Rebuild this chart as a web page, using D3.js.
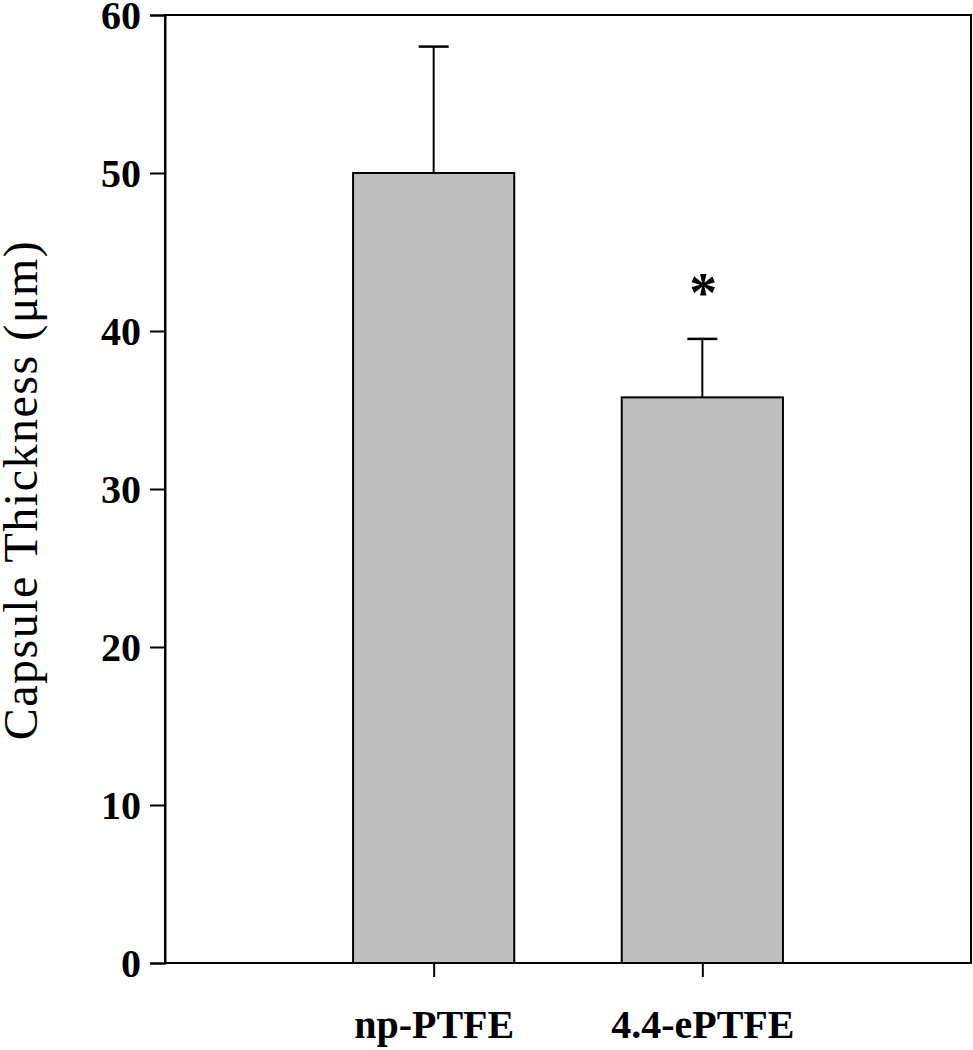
<!DOCTYPE html>
<html>
<head>
<meta charset="utf-8">
<script src="https://cdn.jsdelivr.net/npm/d3@7"></script>
<style>
  body { margin: 0; background: #fff; }
  svg { display: block; }
</style>
</head>
<body>
<svg id="chart" width="973" height="1050"></svg>
<script>
const categories = ["np-PTFE", "4.4-ePTFE"];
const means = [50, 35.8];
const errors = [8, 3.7];
const significance = ["", "*"];
const yTicks = [0, 10, 20, 30, 40, 50, 60];

const margin = { left: 165, right: 2, top: 15, bottom: 87 };
const W = 973, H = 1050;
const svg = d3.select("#chart");

const x = d3.scalePoint().domain(categories).range([margin.left, W - margin.right]).padding(1);
const y = d3.scaleLinear().domain([0, 60]).range([H - margin.bottom, margin.top]);
const barW = x.step() * 0.6;
const font = "'Liberation Serif', 'Times New Roman', serif";

// frame
svg.append("rect")
  .attr("x", margin.left).attr("y", margin.top)
  .attr("width", W - margin.right - margin.left)
  .attr("height", H - margin.bottom - margin.top)
  .attr("fill", "none").attr("stroke", "#000").attr("stroke-width", 2);

// error bars
const eg = svg.append("g");
categories.forEach((c, i) => {
  const cx = x(c);
  eg.append("line").attr("x1", cx).attr("x2", cx)
    .attr("y1", y(means[i])).attr("y2", y(means[i] + errors[i]))
    .attr("stroke", "#000").attr("stroke-width", 2);
  eg.append("line").attr("x1", cx - 15).attr("x2", cx + 15)
    .attr("y1", y(means[i] + errors[i])).attr("y2", y(means[i] + errors[i]))
    .attr("stroke", "#000").attr("stroke-width", 2.5);
});

// bars
svg.append("g").selectAll("rect").data(categories).join("rect")
  .attr("x", c => x(c) - barW / 2)
  .attr("y", (c, i) => y(means[i]))
  .attr("width", barW)
  .attr("height", (c, i) => y(0) - y(means[i]))
  .attr("fill", "#bebebe").attr("stroke", "#000").attr("stroke-width", 2);

// significance
svg.append("g").selectAll("text").data(categories).join("text")
  .attr("x", c => x(c) + 1)
  .attr("y", (c, i) => y(means[i] + errors[i]) - 27)
  .attr("text-anchor", "middle")
  .attr("font-family", font).attr("font-weight", "bold").attr("font-size", 56)
  .text((c, i) => significance[i]);

// y axis
const yAxis = svg.append("g").attr("transform", `translate(${margin.left},0)`)
  .call(d3.axisLeft(y).tickValues(yTicks).tickSize(15).tickPadding(9).tickFormat(d3.format("d")));
yAxis.select(".domain").attr("stroke-width", 2);
yAxis.selectAll(".tick line").attr("stroke-width", 2);
yAxis.selectAll(".tick text").attr("font-family", font).attr("font-weight", "bold")
  .attr("font-size", 40).attr("fill", "#000").attr("dy", "0.34em");

// x axis
const xAxis = svg.append("g").attr("transform", `translate(0,${H - margin.bottom})`)
  .call(d3.axisBottom(x).tickSize(14).tickPadding(33));
xAxis.select(".domain").remove();
xAxis.selectAll(".tick line").attr("stroke-width", 2);
xAxis.selectAll(".tick text").attr("font-family", font).attr("font-weight", "bold")
  .attr("font-size", 40).attr("fill", "#000");

// y title
svg.append("text")
  .attr("transform", `translate(37,${(234 + 746) / 2}) rotate(-90)`)
  .attr("text-anchor", "middle")
  .attr("font-family", font).attr("font-size", 48)
  .attr("letter-spacing", "1.5px")
  .text("Capsule Thickness (μm)");
</script>
</body>
</html>
